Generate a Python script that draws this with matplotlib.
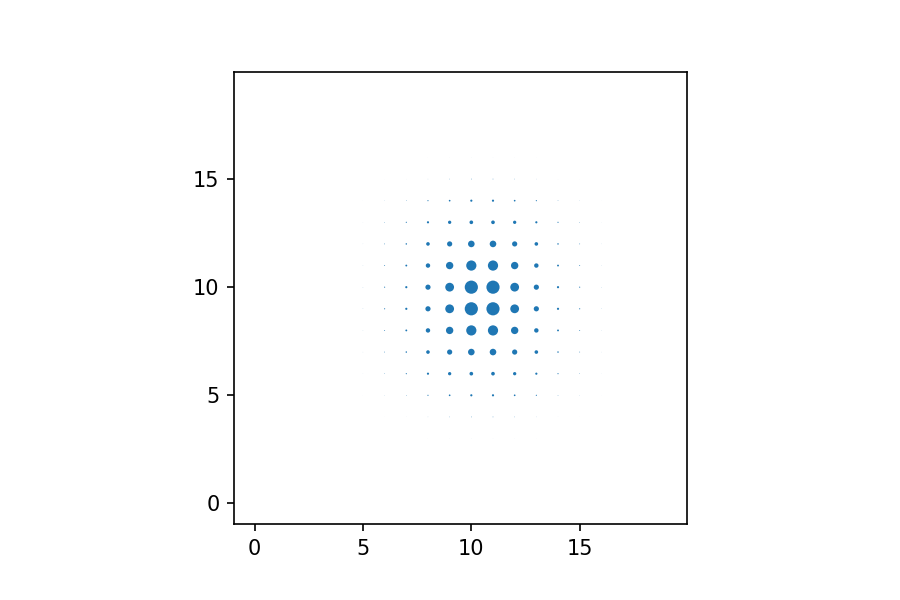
import matplotlib
matplotlib.use("Agg")
import matplotlib.pyplot as plt
import numpy as np

# grid columns / rows that carry a visible dot
xs = list(range(5, 17))
ys = list(range(3, 17))

# marker sizes (pt^2), one row per y value, from y=3 up to y=16
row_3 = [0, 0, 0.001, 0.003, 0.005, 0.008, 0.008, 0.005, 0.003, 0.001, 0, 0]
row_4 = [0, 0.003, 0.008, 0.03, 0.07, 0.11, 0.11, 0.07, 0.03, 0.008, 0.003, 0]
row_5 = [0.004, 0.03, 0.08, 0.3, 0.65, 1.1, 1.1, 0.65, 0.3, 0.08, 0.03, 0.004]
row_6 = [0.01, 0.08, 0.3, 1.1, 2.5, 3.1, 3.1, 2.5, 1.1, 0.3, 0.08, 0.01]
row_7 = [0.02, 0.14, 0.5, 3.0, 6.2, 10.0, 10.0, 6.2, 3.0, 0.5, 0.14, 0.02]
row_8 = [0.025, 0.18, 0.8, 4.5, 12.5, 24, 24, 12.5, 4.5, 0.8, 0.18, 0.025]
row_9 = [0.035, 0.28, 1.1, 6.2, 17.8, 40, 40, 17.8, 6.2, 1.1, 0.28, 0.035]
row_10 = [0.035, 0.28, 1.1, 6.2, 17.8, 40, 40, 17.8, 6.2, 1.1, 0.28, 0.035]
row_11 = [0.025, 0.18, 0.8, 4.5, 12.5, 24, 24, 12.5, 4.5, 0.8, 0.18, 0.025]
row_12 = [0.02, 0.14, 0.5, 3.0, 6.2, 10.0, 10.0, 6.2, 3.0, 0.5, 0.14, 0.02]
row_13 = [0.01, 0.08, 0.3, 1.1, 2.5, 3.1, 3.1, 2.5, 1.1, 0.3, 0.08, 0.01]
row_14 = [0.004, 0.03, 0.08, 0.3, 0.65, 1.1, 1.1, 0.65, 0.3, 0.08, 0.03, 0.004]
row_15 = [0, 0.003, 0.008, 0.03, 0.07, 0.11, 0.11, 0.07, 0.03, 0.008, 0.003, 0]
row_16 = [0, 0, 0.001, 0.003, 0.005, 0.008, 0.008, 0.005, 0.003, 0.001, 0, 0]

sizes = np.array([row_3, row_4, row_5, row_6, row_7, row_8, row_9, row_10,
                  row_11, row_12, row_13, row_14, row_15, row_16])
X, Y = np.meshgrid(xs, ys)

fig = plt.figure(figsize=(6, 4), dpi=150)
ax = fig.add_axes([0.26, 0.1267, 0.5033, 0.7533])
ax.scatter(X.ravel(), Y.ravel(), s=sizes.ravel(), color="#1f77b4", linewidths=0)
ax.set_xlim(-0.95, 19.95)
ax.set_ylim(-0.95, 19.95)
ax.set_xticks([0, 5, 10, 15])
ax.set_yticks([0, 5, 10, 15])

fig.savefig("out.png", dpi=150)
